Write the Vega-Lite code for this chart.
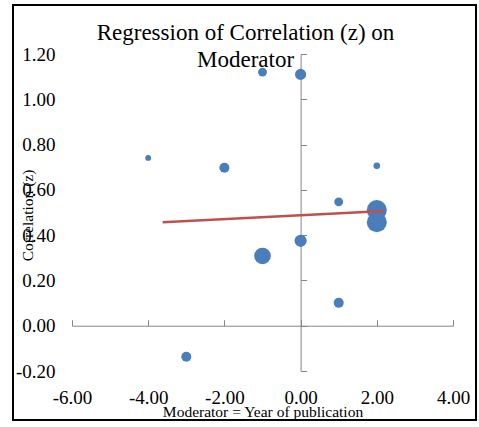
{
  "$schema": "https://vega.github.io/schema/vega-lite/v6.json",
  "width": 463,
  "height": 415,
  "autosize": {"type": "none"},
  "padding": {"left": 13, "top": 5, "right": 3, "bottom": 7},
  "background": "white",
  "config": {
    "view": {"stroke": "black", "strokeWidth": 2, "fill": "white"},
    "font": "Liberation Serif",
    "locale": {"number": {"decimal": ".", "thousands": ",", "grouping": [3], "currency": ["$", ""], "minus": "-"}}
  },
  "title": {
    "text": ["Regression of Correlation (z) on", "Moderator"],
    "font": "Liberation Serif",
    "fontSize": 23,
    "fontWeight": "normal",
    "color": "black",
    "anchor": "middle",
    "lineHeight": 27,
    "offset": -67,
    "dx": 1
  },
  "datasets": {
    "pts": [
      {"moderator": -4, "correlation": 0.741, "weight": 28},
      {"moderator": -3, "correlation": -0.137, "weight": 81},
      {"moderator": -2, "correlation": 0.698, "weight": 81},
      {"moderator": -1, "correlation": 1.12, "weight": 64},
      {"moderator": -1, "correlation": 0.308, "weight": 225},
      {"moderator": 0, "correlation": 1.11, "weight": 100},
      {"moderator": 0, "correlation": 0.375, "weight": 121},
      {"moderator": 1, "correlation": 0.547, "weight": 64},
      {"moderator": 1, "correlation": 0.101, "weight": 81},
      {"moderator": 2, "correlation": 0.706, "weight": 36},
      {"moderator": 2, "correlation": 0.511, "weight": 324},
      {"moderator": 2, "correlation": 0.457, "weight": 324}
    ],
    "reg": [
      {"moderator": -3.62, "correlation": 0.457},
      {"moderator": 2.2, "correlation": 0.507}
    ]
  },
  "layer": [
    {
      "data": {"name": "pts"},
      "mark": {"type": "circle", "color": "#4A7EBB", "opacity": 1},
      "encoding": {
        "x": {
          "field": "moderator",
          "type": "quantitative",
          "scale": {"domain": [-6, 4], "range": [59, 440], "nice": false, "zero": false},
          "axis": {
            "orient": "bottom", "offset": -49, "domain": false, "ticks": false, "tickSize": 0, "grid": false,
            "values": [-6, -4, -2, 0, 2, 4], "format": ".2f",
            "labelFont": "Liberation Serif", "labelFontSize": 19, "labelColor": "black",
            "labelBaseline": "middle", "labelPadding": 26, "labelFlush": false, "labelOverlap": false,
            "title": "Moderator = Year of publication", "titleFont": "Liberation Serif", "titleFontSize": 15.5,
            "titleFontWeight": "normal", "titleColor": "black", "titleY": 40, "titleBaseline": "middle"
          }
        },
        "y": {
          "field": "correlation",
          "type": "quantitative",
          "scale": {"domain": [-0.2, 1.2], "range": [366, 49], "nice": false, "zero": false},
          "axis": {
            "orient": "left", "offset": -42, "domain": false, "ticks": false, "tickSize": 0, "grid": false,
            "values": [-0.2, 0, 0.2, 0.4, 0.6, 0.8, 1.0, 1.2], "format": ".2f",
            "labelFont": "Liberation Serif", "labelFontSize": 19, "labelColor": "black",
            "labelPadding": 0, "labelFlush": false, "labelOverlap": false,
            "title": "Correlation (z)", "titleFont": "Liberation Serif", "titleFontSize": 15.5,
            "titleFontWeight": "normal", "titleColor": "black", "titleX": -28, "titleY": 210, "titleBaseline": "middle"
          }
        },
        "size": {
          "field": "weight",
          "type": "quantitative",
          "scale": {"domain": [0, 324], "range": [0, 400]},
          "legend": null
        }
      }
    },
    {
      "data": {"name": "reg"},
      "mark": {"type": "line", "color": "#C0504D", "strokeWidth": 2.5},
      "encoding": {
        "x": {
          "field": "moderator",
          "type": "quantitative",
          "axis": {
            "orient": "top", "offset": -320.7, "labels": false, "grid": false,
            "domain": true, "domainColor": "#868686", "domainWidth": 1,
            "ticks": true, "tickColor": "#868686", "tickSize": 6, "tickWidth": 1,
            "values": [-6, -4, -2, 0, 2, 4], "title": null
          }
        },
        "y": {
          "field": "correlation",
          "type": "quantitative",
          "axis": {
            "orient": "right", "offset": -175.4, "labels": false, "grid": false,
            "domain": true, "domainColor": "#868686", "domainWidth": 1,
            "ticks": true, "tickColor": "#868686", "tickSize": 6, "tickWidth": 1,
            "values": [-0.2, 0, 0.2, 0.4, 0.6, 0.8, 1.0, 1.2], "title": null
          }
        }
      }
    }
  ],
  "resolve": {"axis": {"x": "independent", "y": "independent"}}
}
